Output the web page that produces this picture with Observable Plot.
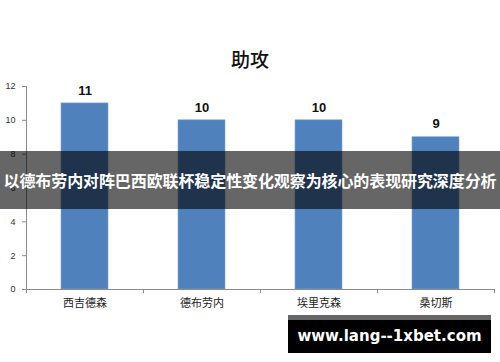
<!DOCTYPE html>
<html>
<head>
<meta charset="utf-8">
<script src="https://cdn.jsdelivr.net/npm/d3@7"></script>
<script src="https://cdn.jsdelivr.net/npm/@observablehq/plot@0.6"></script>
<style>
  html, body { margin: 0; padding: 0; background: #fff; width: 500px; height: 362px; overflow: hidden; position: relative; }
  #title { height: 75px; box-sizing: border-box; padding-top: 47px; text-align: center; font-family: "Noto Sans CJK SC", sans-serif; font-size: 19px; font-weight: 500; color: #111; line-height: 24px; }
  #banner { position: absolute; left: 0; top: 151px; width: 500px; height: 58px; background: rgba(0,0,0,0.6); color: #fff; font-family: "Noto Sans CJK SC", sans-serif; font-weight: 700; font-size: 16px; line-height: 58px; text-align: center; white-space: nowrap; letter-spacing: -0.1px; }
  #wm { position: absolute; left: 288px; top: 315px; width: 203px; height: 33px; border-top: 5px solid #666; background: #000; color: #fff; font-family: "DejaVu Sans", sans-serif; font-weight: 700; font-size: 15px; line-height: 33px; text-align: center; white-space: nowrap; }
</style>
</head>
<body>
<div id="title">助攻</div>
<div id="chart"></div>
<div id="banner">以德布劳内对阵巴西欧联杯稳定性变化观察为核心的表现研究深度分析</div>
<div id="wm">www.lang--1xbet.com</div>
<script>
const players = ["西吉德森", "德布劳内", "埃里克森", "桑切斯"];
const assists = [11, 10, 10, 9];
const yTicks = [0, 2, 4, 6, 8, 10, 12];

const data = players.map((p, i) => ({player: p, value: assists[i]}));
const width = 500, marginLeft = 26, marginRight = 6;
const step = (width - marginLeft - marginRight) / players.length;
const axisColor = "#8c8c8c";

const chart = Plot.plot({
  width, height: 245,
  marginTop: 11, marginBottom: 31, marginLeft, marginRight,
  style: {fontFamily: "'Noto Sans CJK SC', sans-serif", background: "transparent"},
  x: {domain: players, paddingInner: 0.6, paddingOuter: 0.3, label: null},
  y: {domain: [0, 12], label: null},
  marks: [
    Plot.barY(data, {x: "player", y: "value", fill: "#4F81BD", stroke: "#7fa3cf", strokeWidth: 0.6}),
    Plot.text(data, {x: "player", y: "value", text: d => String(d.value), dy: -13, fontSize: 13, fontWeight: "bold", fill: "#111", fontFamily: "'Liberation Sans', sans-serif"}),
    Plot.ruleY([0], {stroke: axisColor}),
    Plot.ruleX([players[0]], {dx: -step / 2, y1: 0, y2: 12, stroke: axisColor}),
    Plot.ruleX(players, {dx: -step / 2, y1: 0, y2: -0.25, stroke: axisColor}),
    Plot.ruleX([players[players.length - 1]], {dx: step / 2, y1: 0, y2: -0.25, stroke: axisColor}),
    Plot.axisY(yTicks, {tickSize: 4, tickPadding: 7, fontSize: 9, stroke: axisColor, color: "#333", label: null, fontFamily: "'Liberation Sans', sans-serif"}),
    Plot.axisX({tickSize: 0, tickPadding: 10, fontSize: 11, color: "#222", label: null})
  ]
});
document.getElementById("chart").appendChild(chart);
</script>
</body>
</html>
